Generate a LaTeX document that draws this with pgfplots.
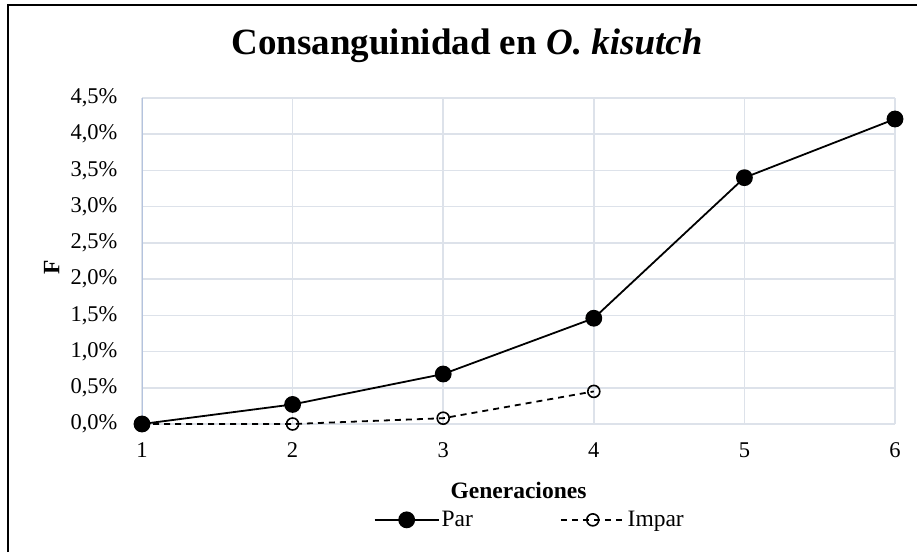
\documentclass[border=0pt]{standalone}
\usepackage{fontspec}
\setmainfont{Liberation Serif}
\usepackage{pgfplots}
\pgfplotsset{compat=1.18}
\definecolor{gridc}{HTML}{DDE2EA}
\definecolor{yaxc}{HTML}{B4C3DE}
\begin{document}
\begin{tikzpicture}
\path[use as bounding box] (0,0) rectangle (917pt,552pt);
\draw[line width=2pt] (8pt,0pt) -- (8pt,547pt) -- (917pt,547pt);
\node[font=\fontsize{37}{42}\selectfont\bfseries] at (467pt,506pt) {Consanguinidad en \textit{O. kisutch}};
\begin{axis}[
  at={(142pt,128pt)}, anchor=south west,
  scale only axis, width=753pt, height=326pt,
  xmin=1, xmax=6, ymin=0, ymax=4.5,
  xtick={1,2,3,4,5,6}, ytick={0,0.5,...,4.5},
  axis lines*=left,
  axis line style={-},
  x axis line style={draw=gridc, line width=1.5pt},
  y axis line style={draw=yaxc, line width=1pt},
  grid=major, major grid style={draw=gridc, line width=1.5pt},
  major tick length=0pt,
  /pgf/number format/assume math mode=true,
  tick label style={font=\fontsize{22.5}{26}\selectfont},
  yticklabel={\pgfmathprintnumber[fixed,fixed zerofill,precision=1,use comma]{\tick}\%},
  yticklabel style={xshift=-21pt},
  xticklabel style={yshift=-15pt},
  xlabel={\textbf{Generaciones}},
  xlabel style={font=\fontsize{23.5}{27}\selectfont, at={(axis description cs:0.5,0)}, anchor=center, yshift=-66pt},
  ylabel={\textbf{F}},
  ylabel style={font=\fontsize{23.5}{27}\selectfont, at={(axis description cs:-0.12,0.48)}, anchor=center},
  legend columns=2,
  legend style={at={(0.515,-0.294)}, anchor=center, draw=none, fill=none,
    font=\fontsize{23.5}{27}\selectfont,
    /tikz/every even column/.append style={column sep=85pt}},
  legend cell align=left,
  legend image code/.code={\draw[mark repeat=2,mark phase=2,#1] plot coordinates {(0pt,0pt) (32pt,0pt) (64pt,0pt)};},
  clip=false,
]
\addplot[black, line width=1.8pt, mark=*, mark size=7.5pt, mark options={solid, fill=black}]
  coordinates {(1,0) (2,0.27) (3,0.69) (4,1.46) (5,3.40) (6,4.21)};
\addlegendentry{Par}
\addplot[black, line width=1.8pt, dashed, dash pattern=on 6pt off 5pt, mark=o, mark size=6pt, mark options={solid, fill=white, line width=1.6pt}]
  coordinates {(1,0) (2,0.0) (3,0.08) (4,0.45)};
\addlegendentry{Impar}
\end{axis}
\end{tikzpicture}
\end{document}
